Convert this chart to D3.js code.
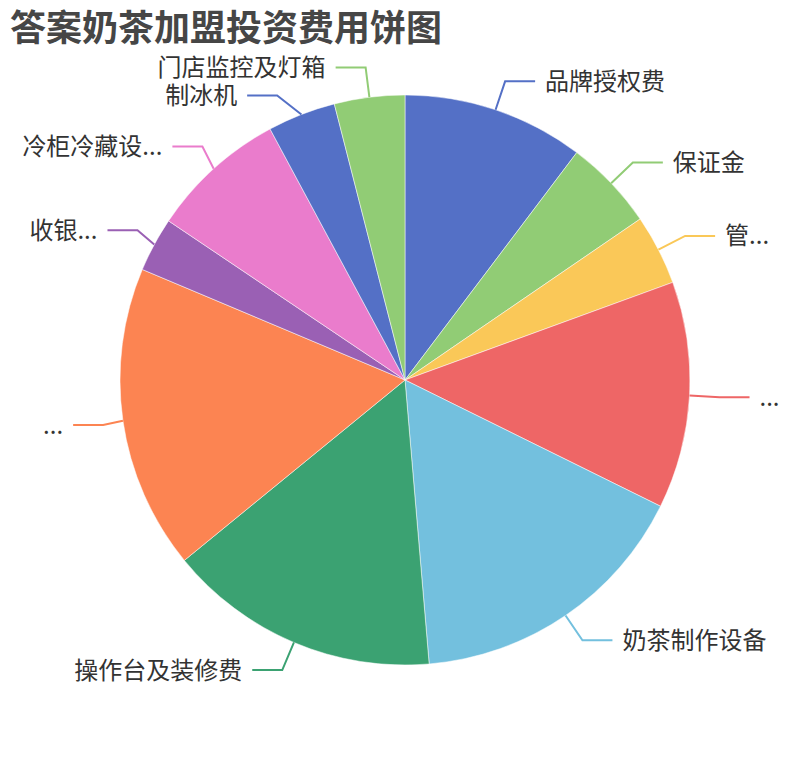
<!DOCTYPE html>
<html>
<head>
<meta charset="utf-8">
<script src="https://cdn.jsdelivr.net/npm/d3@7/dist/d3.min.js"></script>
<style>
  html, body { margin: 0; padding: 0; background: #fff; }
  svg { display: block; }
  text { font-family: "Noto Sans CJK SC", "Noto Sans", sans-serif; }
</style>
</head>
<body>
<div id="chart"></div>
<script>
// ---- data ----
const titleText = '答案奶茶加盟投资费用饼图';
const categories = ['品牌授权费', '保证金', '管...', '...', '奶茶制作设备', '操作台及装修费', '...', '收银...', '冷柜冷藏设...', '制冰机', '门店监控及灯箱'];
const values = [4, 2, 1.55, 5, 6.35, 6, 6.7, 1.2, 3, 1.5, 1.55];
const colors = ['#5470c6', '#91cc75', '#fac858', '#ee6666', '#73c0de', '#3ba272', '#fc8452', '#9a60b4', '#ea7ccc', '#5470c6', '#91cc75'];

// ---- layout ----
const W = 810, H = 760;
const cx = W / 2, cy = H / 2;
const r = 0.75 * Math.min(W, H) / 2;
const len1 = 30, len2 = 30, dist = 10, labelH = 28, fontSize = 24;

const svg = d3.select('#chart').append('svg').attr('width', W).attr('height', H);

svg.append('text')
  .attr('x', 10).attr('y', 25)
  .attr('dominant-baseline', 'central')
  .attr('font-size', 36).attr('font-weight', 'bold')
  .attr('fill', '#464646')
  .text(titleText);

const data = categories.map((c, i) => ({ name: c, value: values[i], color: colors[i] }));
const pie = d3.pie().value(d => d.value).sort(null);
const arcs = pie(data);
const arc = d3.arc().innerRadius(0).outerRadius(r);

const g = svg.append('g').attr('transform', `translate(${cx},${cy})`);
g.selectAll('path.slice').data(arcs).enter().append('path')
  .attr('class', 'slice')
  .attr('d', arc)
  .attr('fill', d => d.data.color)
  .attr('stroke', '#fff').attr('stroke-width', 0.5);

// label layout (ECharts-like)
const items = arcs.map(a => {
  const mid = (a.startAngle + a.endAngle) / 2;
  const sx = Math.sin(mid), sy = -Math.cos(mid);
  const dir = sx < 0 ? -1 : 1;
  const x1 = cx + sx * r, y1 = cy + sy * r;
  const x2 = cx + sx * (r + len1), y2 = cy + sy * (r + len1);
  const x3 = x2 + dir * len2;
  const textX = x3 + dir * dist;
  return { a, dir, x1, y1, y: y2, origY: y2, textX };
});

[-1, 1].forEach(dir => {
  const side = items.filter(d => d.dir === dir).sort((p, q) => p.y - q.y);
  let shifted = false;
  for (let i = 1; i < side.length; i++) {
    if (side[i].y - side[i - 1].y < labelH) {
      side[i].y = side[i - 1].y + labelH;
      shifted = true;
    }
  }
  if (!shifted) return;
  const rA = r + len1;
  const semis = [side.filter(d => d.y < cy), side.filter(d => d.y >= cy)];
  semis.forEach(list => {
    if (!list.length) return;
    let maxY = -1, rB = rA;
    list.forEach(d => {
      const dy = Math.abs(d.y - cy);
      if (dy >= maxY) {
        const dx = d.textX - cx - len2 * dir;
        rB = Math.abs(dx) < rA ? Math.sqrt(dy * dy / (1 - dx * dx / rA / rA)) : rA;
        maxY = dy;
      }
    });
    list.forEach(d => {
      const dy = Math.abs(d.y - cy);
      const ddx = Math.sqrt(Math.max(0, (1 - dy * dy / (rB * rB))) * rA * rA);
      d.textX = cx + (ddx + len2) * dir;
    });
  });
});

items.forEach(d => {
  const x3 = d.textX - d.dir * dist;
  const x2 = x3 - d.dir * len2;
  svg.append('polyline')
    .attr('points', [[d.x1, d.y1], [x2, d.y], [x3, d.y]].map(p => p.join(',')).join(' '))
    .attr('fill', 'none')
    .attr('stroke', d.a.data.color)
    .attr('stroke-width', 2);
  svg.append('text')
    .attr('x', d.textX).attr('y', d.y - 2)
    .attr('dominant-baseline', 'central')
    .attr('text-anchor', d.dir > 0 ? 'start' : 'end')
    .attr('font-size', fontSize)
    .attr('fill', '#333')
    .text(d.a.data.name);
});
</script>
</body>
</html>
